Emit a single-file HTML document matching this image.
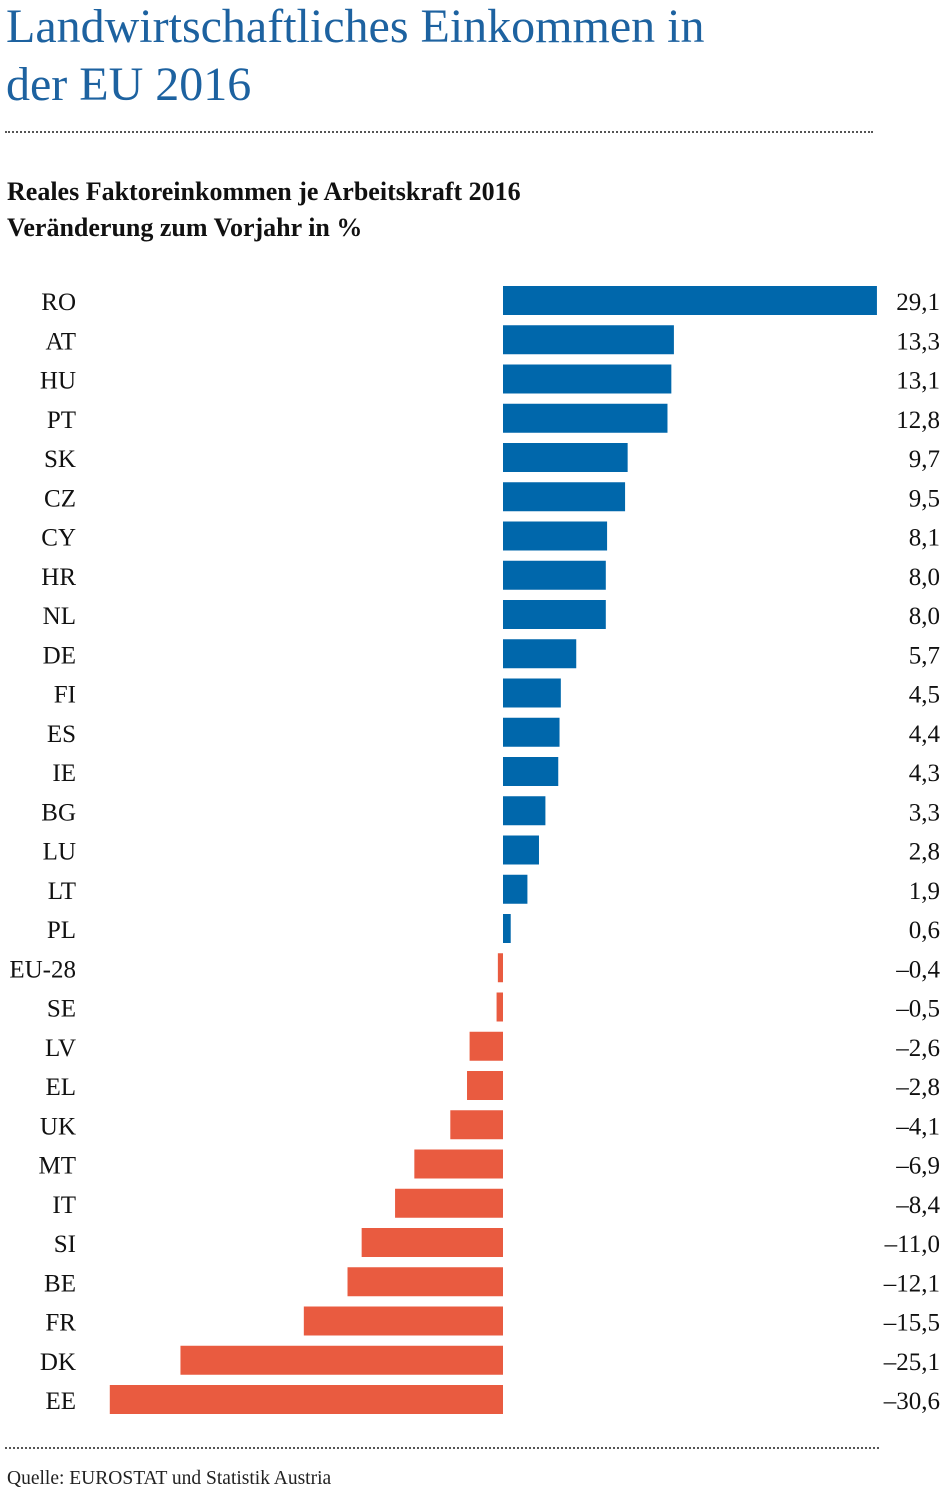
<!DOCTYPE html>
<html><head><meta charset="utf-8"><style>
body{margin:0;width:942px;height:1496px;background:#fff;position:relative;font-family:"Liberation Serif",serif;overflow:hidden}
.t{position:absolute;left:6px;top:-2px;font-size:48px;line-height:58px;color:#1d62a0;margin:0}
.dot{position:absolute;left:5px;height:0;border-top:2px dotted #555}
.s{position:absolute;left:7px;top:174px;font-size:26px;font-weight:bold;line-height:36px;color:#111}
.q{position:absolute;left:7px;top:1468px;font-size:19.5px;color:#222}
</style></head><body>
<div class="t">Landwirtschaftliches Einkommen in<br>der EU 2016</div>
<div class="dot" style="top:131px;width:868px"></div>
<div class="s">Reales Faktoreinkommen je Arbeitskraft 2016<br>Veränderung zum Vorjahr in %</div>
<svg style="position:absolute;left:0;top:0" width="942" height="1496" font-family="Liberation Serif, serif" font-size="25" fill="#111">
<g id="g"></g>
</svg>
<div class="dot" style="top:1447px;width:874px"></div>
<div class="q">Quelle: EUROSTAT und Statistik Austria</div>
<script>
var d=[["RO",29.1],["AT",13.3],["HU",13.1],["PT",12.8],["SK",9.7],["CZ",9.5],["CY",8.1],["HR",8.0],["NL",8.0],["DE",5.7],["FI",4.5],["ES",4.4],["IE",4.3],["BG",3.3],["LU",2.8],["LT",1.9],["PL",0.6],["EU-28",-0.4],["SE",-0.5],["LV",-2.6],["EL",-2.8],["UK",-4.1],["MT",-6.9],["IT",-8.4],["SI",-11.0],["BE",-12.1],["FR",-15.5],["DK",-25.1],["EE",-30.6]];
var s="",k=12.85;
d.forEach(function(r,i){var y=286+i*39.25,v=r[1],w=Math.abs(v)*k,x=v>=0?503:503-w;
s+='<rect x="'+x+'" y="'+y+'" width="'+w+'" height="29" fill="'+(v>=0?'#0067ab':'#e95b40')+'"/>';
s+='<text x="76" y="'+(y+24)+'" text-anchor="end">'+r[0]+'</text>';
s+='<text x="940" y="'+(y+24)+'" text-anchor="end">'+(v<0?'–':'')+Math.abs(v).toFixed(1).replace('.',',')+'</text>';});
document.getElementById('g').innerHTML=s;
</script>
</body></html>
